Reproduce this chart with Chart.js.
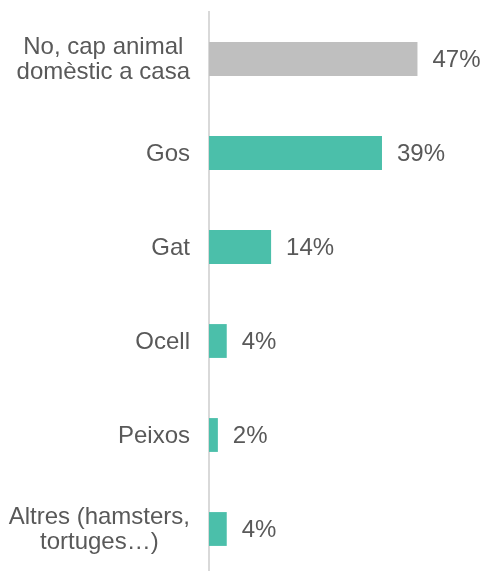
<!DOCTYPE html>
<html>
<head>
<meta charset="utf-8">
<script src="https://cdn.jsdelivr.net/npm/chart.js@4"></script>
<style>
html,body{margin:0;padding:0;background:#fff;overflow:hidden;}
#wrap{width:484px;height:576px;position:relative;}
</style>
</head>
<body>
<div id="wrap"><canvas id="c"></canvas></div>
<script>
const categories = [
  ["No, cap animal", "domèstic a casa"],
  "Gos",
  "Gat",
  "Ocell",
  "Peixos",
  ["Altres (hamsters,", "tortuges…)"]
];
const values = [47, 39, 14, 4, 2, 4];
const barColors = ["#bfbfbf", "#4bbfaa", "#4bbfaa", "#4bbfaa", "#4bbfaa", "#4bbfaa"];

const FONT = '24px "Liberation Sans", Arial, sans-serif';
const TEXT_COLOR = '#595959';

const valueLabels = {
  id: 'valueLabels',
  afterDatasetsDraw(chart) {
    const ctx = chart.ctx;
    const meta = chart.getDatasetMeta(0);
    ctx.save();
    ctx.font = FONT;
    ctx.fillStyle = TEXT_COLOR;
    ctx.textBaseline = 'middle';
    ctx.textAlign = 'left';
    meta.data.forEach((bar, i) => {
      ctx.fillText(values[i] + '%', bar.x + 15, bar.y + 1);
    });
    ctx.restore();
  }
};

// category labels: block right-aligned to the axis, lines centred inside the block
const categoryLabels = {
  id: 'categoryLabels',
  afterDraw(chart) {
    const ctx = chart.ctx;
    const yScale = chart.scales.y;
    const right = yScale.right - 19;
    const lineH = 25;
    ctx.save();
    ctx.font = FONT;
    ctx.fillStyle = TEXT_COLOR;
    ctx.textBaseline = 'middle';
    ctx.textAlign = 'center';
    categories.forEach((lab, i) => {
      const lines = Array.isArray(lab) ? lab : [lab];
      const w = Math.max(...lines.map(l => ctx.measureText(l).width));
      const cx = right - w / 2;
      const cy = yScale.getPixelForValue(i);
      const y0 = cy - (lines.length - 1) * lineH / 2;
      lines.forEach((l, k) => ctx.fillText(l, cx, y0 + k * lineH + 1));
    });
    ctx.restore();
  }
};

new Chart(document.getElementById('c'), {
  type: 'bar',
  data: {
    labels: categories,
    datasets: [{
      data: values,
      backgroundColor: barColors,
      borderWidth: 0,
      categoryPercentage: 1,
      barPercentage: 0.36
    }]
  },
  options: {
    indexAxis: 'y',
    responsive: true,
    maintainAspectRatio: false,
    animation: false,
    layout: { padding: { top: 12, bottom: 0, left: 0, right: 0 } },
    plugins: { legend: { display: false }, tooltip: { enabled: false } },
    scales: {
      x: { display: false, min: 0, max: 62 },
      y: {
        grid: { display: false, drawTicks: false },
        border: { display: true, color: '#d9d9d9', width: 2 },
        ticks: {
          color: 'rgba(0,0,0,0)',
          padding: 19,
          font: { family: '"Liberation Sans", Arial, sans-serif', size: 24, lineHeight: 1.05 }
        },
        afterFit(scale) {
          scale.width = 209;
          scale.paddingTop = 0;
          scale.paddingBottom = 0;
        }
      }
    }
  },
  plugins: [valueLabels, categoryLabels]
});
</script>
</body>
</html>
